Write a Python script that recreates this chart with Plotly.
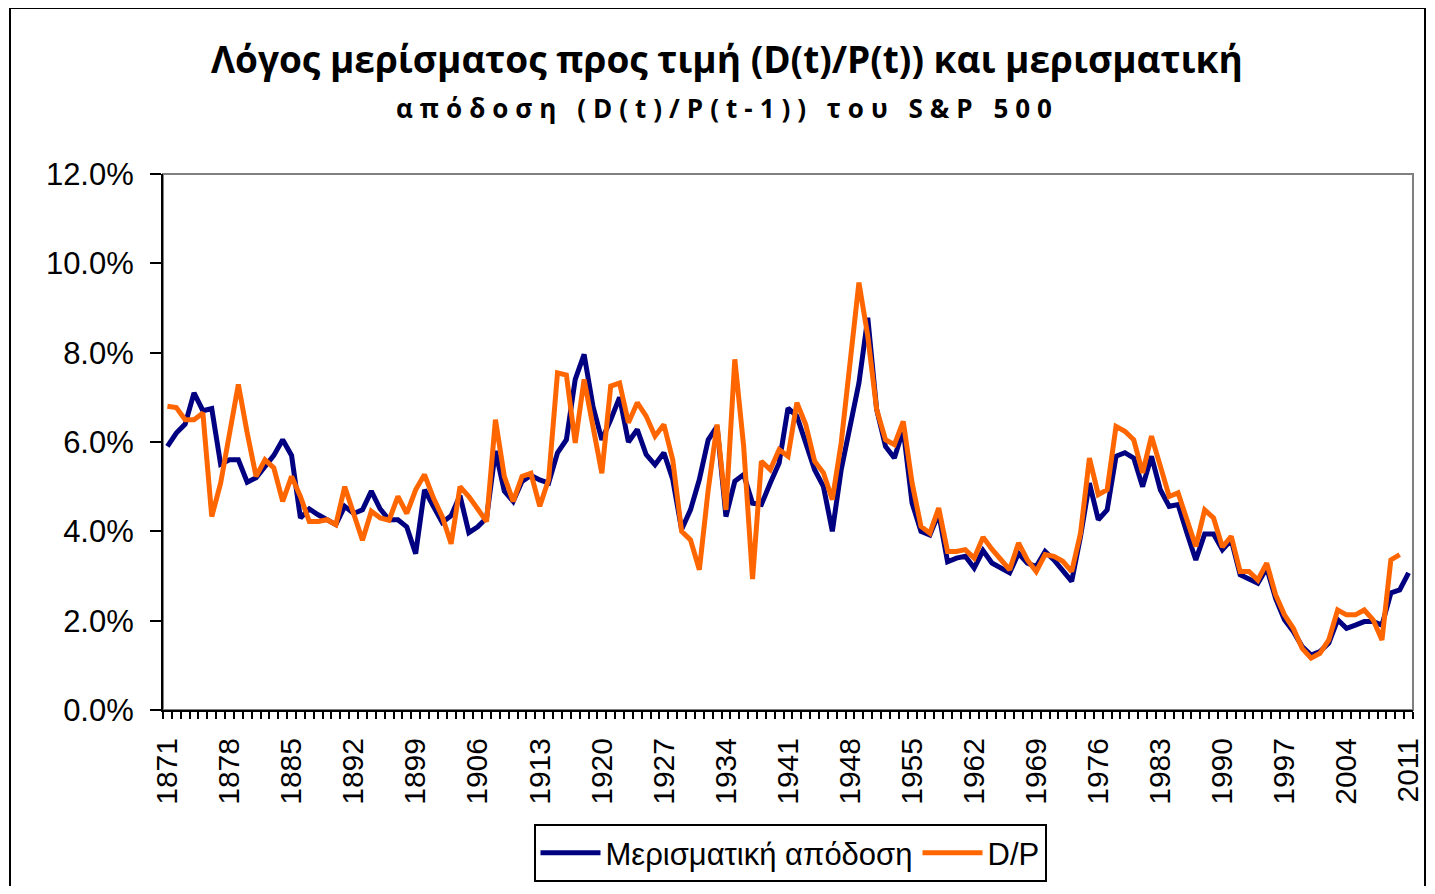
import plotly.graph_objects as go

years = list(range(1871, 2012))

dividend_yield = [
    5.9, 6.2, 6.4, 7.1, 6.7, 6.75, 5.5, 5.6, 5.6, 5.1,
    5.2, 5.45, 5.7, 6.05, 5.7, 4.3, 4.5, 4.37, 4.26, 4.15,
    4.56, 4.4, 4.48, 4.9, 4.5, 4.26, 4.26, 4.1, 3.5, 4.93,
    4.56, 4.2, 4.35, 4.8, 3.97, 4.1, 4.3, 5.8, 4.9, 4.67,
    5.12, 5.25, 5.15, 5.08, 5.76, 6.05, 7.4, 7.96, 6.8, 6.05,
    6.5, 7.0, 6.0, 6.28, 5.72, 5.49, 5.76, 5.16, 4.04, 4.48,
    5.16, 6.05, 6.35, 4.33, 5.12, 5.27, 4.63, 4.6, 5.08, 5.53,
    6.76, 6.58, 5.98, 5.38, 5.0, 4.0, 5.38, 6.35, 7.32, 8.78,
    6.73, 5.9, 5.64, 6.28, 4.63, 4.0, 3.92, 4.4, 3.32, 3.4,
    3.44, 3.18, 3.57, 3.29, 3.18, 3.07, 3.51, 3.29, 3.21, 3.55,
    3.36, 3.14, 2.88, 3.89, 5.08, 4.26, 4.48, 5.68, 5.76, 5.64,
    5.0, 5.68, 4.93, 4.56, 4.6, 3.96, 3.36, 3.94, 3.94, 3.59,
    3.81, 3.03, 2.95, 2.84, 3.18, 2.5, 2.02, 1.76, 1.42, 1.23,
    1.31, 1.5, 2.02, 1.83, 1.9, 1.98, 1.98, 1.9, 2.62, 2.69,
    3.07,
]

dp_ratio = [
    6.8, 6.77, 6.5, 6.5, 6.65, 4.33, 5.08, 6.2, 7.29, 6.2,
    5.23, 5.6, 5.42, 4.67, 5.23, 4.78, 4.22, 4.22, 4.26, 4.15,
    5.0, 4.4, 3.8, 4.45, 4.3, 4.25, 4.78, 4.4, 4.93, 5.27,
    4.75, 4.33, 3.72, 5.0, 4.78, 4.5, 4.22, 6.5, 5.23, 4.67,
    5.23, 5.3, 4.56, 5.16, 7.55, 7.5, 5.98, 7.4, 6.35, 5.3,
    7.25, 7.32, 6.43, 6.88, 6.58, 6.13, 6.39, 5.6, 4.0, 3.81,
    3.14, 4.93, 6.39, 4.48, 7.85, 5.9, 2.93, 5.57, 5.38, 5.83,
    5.68, 6.88, 6.39, 5.57, 5.31, 4.71, 5.98, 7.77, 9.57, 8.37,
    6.73, 6.05, 5.94, 6.46, 5.08, 4.11, 3.96, 4.52, 3.55, 3.55,
    3.59, 3.4, 3.87, 3.6, 3.36, 3.14, 3.74, 3.36, 3.1, 3.48,
    3.44, 3.33, 3.1, 3.96, 5.64, 4.82, 4.93, 6.35, 6.24, 6.05,
    5.31, 6.13, 5.46, 4.78, 4.86, 4.26, 3.66, 4.48, 4.3, 3.65,
    3.89, 3.1, 3.1, 2.91, 3.29, 2.58, 2.13, 1.83, 1.38, 1.16,
    1.27, 1.57, 2.24, 2.13, 2.13, 2.24, 2.02, 1.57, 3.36, 3.48,
]

tick_years = list(range(1871, 2012, 7))
series_names = ["Μερισματική απόδοση", "D/P"]
title_line1 = "Λόγος μερίσματος προς τιμή (D(t)/P(t)) και μερισματική"
title_line2 = "απόδοση (D(t)/P(t-1)) του S&amp;P 500"

FONT = "Arial, Liberation Sans, sans-serif"
TFONT = "Open Sans, Arial, sans-serif"

fig = go.Figure()
fig.add_trace(go.Scatter(
    x=years, y=[v / 100 for v in dividend_yield], mode="lines",
    name=series_names[0], line=dict(color="#000080", width=5),
))
fig.add_trace(go.Scatter(
    x=years[:len(dp_ratio)], y=[v / 100 for v in dp_ratio], mode="lines",
    name=series_names[1], line=dict(color="#FF6600", width=5),
))

# page has an 8px body margin on every side; size figure so the page fits the window exactly
OFF = 8
PL, PR, PT, PB = 163, 1413, 174, 710  # plot area in page pixels
FIG_W, FIG_H = 1435 - 2 * OFF, 894 - 2 * OFF
L = PL - OFF
T = PT - OFF
R = FIG_W - (PR - OFF)
B = FIG_H - (PB - OFF)
W = PR - PL
H = PB - PT

def px_x(p):
    return (p - PL) / W

def px_y(p):
    return (PB - p) / H

shapes = [
    dict(type="rect", xref="paper", yref="paper",
         x0=px_x(10), x1=px_x(1425), y0=px_y(940), y1=px_y(8),
         line=dict(color="black", width=2), fillcolor="rgba(0,0,0,0)", layer="below"),
    dict(type="rect", xref="paper", yref="paper", x0=0, x1=1, y0=0, y1=1,
         line=dict(color="#808080", width=2), fillcolor="rgba(0,0,0,0)", layer="below"),
]

fig.update_layout(
    width=FIG_W, height=FIG_H,
    margin=dict(l=L, r=R, t=T, b=B, pad=0, autoexpand=False),
    paper_bgcolor="white", plot_bgcolor="white",
    font=dict(family=FONT, color="black", size=30),
    shapes=shapes,
    showlegend=True,
    legend=dict(
        orientation="h", x=px_x(790), xanchor="center",
        y=px_y(824), yanchor="top",
        bordercolor="black", borderwidth=2, bgcolor="white",
        font=dict(size=31, family=FONT), itemwidth=60,
    ),
    annotations=[
        dict(text="<b>" + title_line1 + "</b>", xref="paper", yref="paper",
             x=px_x(727), y=px_y(59), xanchor="center", yanchor="middle",
             showarrow=False, font=dict(size=37, family=TFONT)),
        dict(text='<b><span style="letter-spacing:7px">' + title_line2 + "</span></b>",
             xref="paper", yref="paper",
             x=px_x(727), y=px_y(108), xanchor="center", yanchor="middle",
             showarrow=False, font=dict(size=26, family=TFONT)),
    ],
)

fig.update_xaxes(
    range=[1870.5, 2011.5], tickmode="array", tickvals=tick_years,
    ticktext=[str(y) for y in tick_years], tickangle=-90,
    ticks="", showgrid=False, zeroline=False, automargin=False,
    showline=True, linecolor="black", linewidth=2,
    ticklabelstandoff=14, ticklabeloverflow="allow",
    tickfont=dict(size=30, family=FONT),
    minor=dict(tickmode="array", tickvals=[y - 0.5 for y in years] + [2011.5],
               ticks="outside", ticklen=7, tickcolor="black", tickwidth=2, showgrid=False),
)
fig.update_yaxes(
    range=[0, 0.12], dtick=0.02, tick0=0, tickformat=".1%",
    ticks="outside", ticklen=11, tickcolor="black", tickwidth=2,
    showgrid=False, zeroline=False, automargin=False,
    showline=True, linecolor="black", linewidth=2,
    ticklabelstandoff=10,
    tickfont=dict(size=31, family=FONT),
)

fig.write_html("out.html")
